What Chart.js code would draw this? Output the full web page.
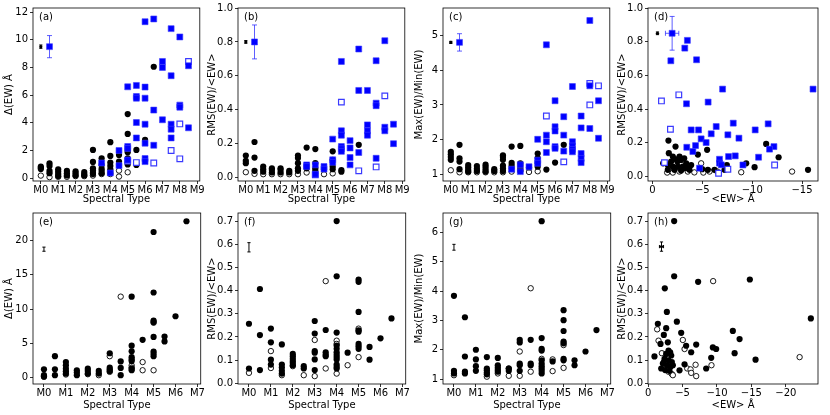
<!DOCTYPE html>
<html>
<head>
<meta charset="utf-8">
<script src="https://cdn.jsdelivr.net/npm/chart.js@4.4.0/dist/chart.umd.min.js"></script>
<style>
body { margin: 0; background: #fff; }
#wrap { position: relative; width: 830px; height: 415px; }
#wrap canvas { position: absolute; }
</style>
</head>
<body>
<div id="wrap">
  <canvas id="pa" width="205" height="205" style="left:0px;top:0px"></canvas>
  <canvas id="pb" width="205" height="205" style="left:205px;top:0px"></canvas>
  <canvas id="pc" width="205" height="205" style="left:410px;top:0px"></canvas>
  <canvas id="pd" width="215" height="205" style="left:615px;top:0px"></canvas>
  <canvas id="pe" width="205" height="210" style="left:0px;top:205px"></canvas>
  <canvas id="pf" width="205" height="210" style="left:205px;top:205px"></canvas>
  <canvas id="pg" width="205" height="210" style="left:410px;top:205px"></canvas>
  <canvas id="ph" width="215" height="210" style="left:615px;top:205px"></canvas>
</div>
<script>
// tick labels
var specTop = ['M0', 'M1', 'M2', 'M3', 'M4', 'M5', 'M6', 'M7', 'M8', 'M9'];
var specBottom = ['M0', 'M1', 'M2', 'M3', 'M4', 'M5', 'M6', 'M7'];
var ewTicksD = [0, -5, -10, -15];
var ewTicksH = [0, -5, -10, -15, -20];

// (a) Delta(EW) vs spectral type
var aBlack = [[0,0.84],[0,0.75],[0,0.67],[0.5,1.08],[0.5,0.89],[0.5,0.53],[0.5,0.36],
  [1,0.65],[1,0.48],[1,0.31],[1,0.17],[1.5,0.53],[1.5,0.36],[1.5,0.2],[2,0.5],[2,0.36],[2,0.2],
  [2.5,0.45],[2.5,0.3],[2.5,0.2],[3,2.04],[3,1.18],[3,0.72],[3,0.55],[3,0.4],[3,0.3],
  [3.5,1.44],[3.5,0.96],[3.5,0.69],[3.5,0.53],[3.5,0.36],[4,2.6],[4,1.61],[4,1.13],[4,0.89],[4,0.65],[4,0.4],
  [4.5,1.68],[4.5,1.2],[4.5,0.96],[5,4.63],[5,3.2],[5,2.04],[5,1.88],[5,1.44],[5,1.16],[5,1.0],
  [5.5,2.04],[5.5,0.96],[6,2.77],[6.5,8.05]];
var aOpen = [[0,0.19],[0.5,0.08],[1,0.1],[1.5,0.1],[2,0.15],[2.5,0.15],[3,0.19],[3.5,0.3],[4,0.3],[4.5,0.55],[4.5,0.12],[5,0.43]];
var aBlue = [[3.5,1.1],[4,0.38],[4.5,2.0],[4.5,0.91],[5,6.6],[5,2.29],[5,2.15],[5,1.32],
  [5.5,6.7],[5.5,5.9],[5.5,5.78],[5.5,4.02],[5.5,2.91],[6,11.3],[6,6.58],[6,5.78],[6,3.9],[6,2.53],[6,1.42],[6,1.2],
  [6.5,11.5],[6.5,4.92],[6.5,2.38],[7,8.43],[7,8.0],[7,4.22],[7.5,10.8],[7.5,7.4],[7.5,3.9],[7.5,3.54],[7.5,2.91],
  [8,10.2],[8,5.28],[8,5.13],[8.5,8.12],[8.5,3.64]];
var aBlueOpen = [[5,1.24],[5.5,1.13],[6.5,1.1],[7.5,2.0],[8,3.92],[8,1.4],[8.5,8.43]];
var aErr = [{x:0.5, y:9.5, yerr:0.8, m:'sq'}, {x:0, y:9.5, yerr:0.12, m:'dot'}];

// (b) RMS/<EW> vs spectral type
var bBlack = [[0,0.13],[0,0.099],[0,0.085],[0.5,0.21],[0.5,0.118],[0.5,0.04],[1,0.065],[1,0.05],[1,0.035],
  [1.5,0.055],[1.5,0.045],[1.5,0.03],[2,0.055],[2,0.045],[2,0.03],[2.5,0.04],[2.5,0.03],
  [3,0.13],[3,0.115],[3,0.085],[3,0.055],[3,0.04],[3.5,0.177],[3.5,0.07],[3.5,0.055],
  [4,0.168],[4,0.085],[4,0.055],[4,0.04],[4.5,0.05],[5,0.155],[5,0.105],[5,0.065],[5,0.05],
  [5.5,0.045],[5.5,0.035],[6.5,0.193]];
var bOpen = [[0,0.032],[0.5,0.022],[1,0.02],[1.5,0.02],[2,0.02],[2.5,0.02],[3,0.02],[3.5,0.03],[4,0.025],[4.5,0.02],[5,0.025]];
var bBlue = [[3.5,0.075],[3.5,0.065],[4,0.075],[4,0.02],[4.5,0.065],[4.5,0.05],[5,0.227],[5,0.105],[5,0.09],
  [5.5,0.685],[5.5,0.276],[5.5,0.25],[5.5,0.183],[5.5,0.17],[5.5,0.155],[6,0.218],[6,0.175],[6,0.118],[6,0.075],
  [6.5,0.758],[6.5,0.514],[6.5,0.148],[7,0.514],[7,0.311],[7,0.276],[7,0.25],
  [7.5,0.689],[7.5,0.439],[7.5,0.424],[7.5,0.114],[8,0.807],[8,0.297],[8,0.276],[8.5,0.315],[8.5,0.2]];
var bBlueOpen = [[4,0.016],[5.5,0.445],[6.5,0.04],[7.5,0.063],[8,0.482]];
var bErr = [{x:0.5, y:0.8, yerr:0.1, m:'sq'}, {x:0, y:0.8, yerr:0.008, m:'dot'}];

// (c) Max/Min vs spectral type
var cBlack = [[0,1.65],[0,1.58],[0,1.5],[0,1.42],[0.5,1.85],[0.5,1.46],[0.5,1.37],[0.5,1.15],
  [1,1.27],[1,1.2],[1,1.13],[1,1.08],[1.5,1.24],[1.5,1.16],[1.5,1.1],[2,1.28],[2,1.22],[2,1.15],[2,1.08],
  [2.5,1.15],[2.5,1.1],[3,1.55],[3,1.5],[3,1.42],[3,1.25],[3,1.17],[3,1.1],
  [3.5,1.8],[3.5,1.33],[3.5,1.25],[3.5,1.17],[4,1.82],[4,1.32],[4,1.25],[4,1.17],[4,1.1],
  [4.5,1.2],[5,1.6],[5,1.47],[5,1.32],[5,1.22],[5.5,1.14],[6,1.34],[6.5,1.85]];
var cOpen = [[0,1.12],[0.5,1.06],[1,1.06],[1.5,1.06],[2,1.06],[2.5,1.06],[3,1.06],[3.5,1.08],[4,1.1],[4.5,1.07],[5,1.09]];
var cBlue = [[3.5,1.15],[4,1.28],[4,1.08],[4.5,1.22],[5,2.01],[5,1.41],[5,1.32],
  [5.5,4.73],[5.5,2.13],[5.5,1.94],[5.5,1.63],[6,3.12],[6,2.37],[6,2.25],[6,1.8],[6,1.75],
  [6.5,2.66],[6.5,2.13],[6.5,1.67],[7,3.53],[7,1.94],[7,1.82],[7,1.72],[7,1.65],
  [7.5,2.68],[7.5,2.34],[7.5,1.6],[7.5,1.46],[7.5,1.34],[8,5.43],[8,3.55],[8,2.32],[8.5,3.12],[8.5,2.04]];
var cBlueOpen = [[5.5,2.68],[6.5,1.36],[8,3.62],[8,3.0],[8.5,3.55]];
var cErr = [{x:0.5, y:4.8, yerr:0.25, m:'sq'}, {x:0, y:4.8, yerr:0.03, m:'dot'}];

// (d) RMS/<EW> vs <EW>
var dBlack = [[-1.6,0.214],[-2.31,0.178],[-1.64,0.139],[-2.04,0.119],[-2.37,0.103],[-2.71,0.119],[-2.87,0.099],
  [-1.87,0.089],[-1.54,0.069],[-2.04,0.059],[-2.54,0.059],[-3.04,0.059],[-3.38,0.079],[-3.54,0.05],
  [-3.88,0.069],[-1.54,0.04],[-2.2,0.04],[-2.87,0.036],[-3.71,0.04],[-4.55,0.131],[-5.48,0.159],
  [-4.98,0.044],[-5.55,0.04],[-6.22,0.04],[-7.23,0.04],[-7.46,0.069],[-9.4,0.079],[-10.24,0.056],
  [-11.4,0.194],[-12.65,0.115],[-15.6,0.04],[-3.18,0.109],[-1.07,0.079],[-2.5,0.09],[-3.2,0.05]];
var dOpen = [[-1.47,0.024],[-2.04,0.024],[-2.7,0.03],[-3.54,0.03],[-4.88,0.079],[-5.1,0.024],[-5.72,0.03],
  [-8.9,0.026],[-14.0,0.03],[-6.5,0.03],[-4.2,0.025]];
var dBlue = [[-1.84,0.687],[-3.24,0.762],[-3.5,0.808],[-4.42,0.693],[-3.41,0.432],[-5.58,0.442],[-7.03,0.519],[-16.1,0.519],
  [-3.88,0.277],[-4.62,0.277],[-6.39,0.297],[-8.1,0.317],[-11.6,0.313],[-10.3,0.277],
  [-7.56,0.248],[-5.89,0.254],[-4.88,0.224],[-5.38,0.202],[-4.32,0.184],[-3.44,0.174],[-4.05,0.149],
  [-8.67,0.228],[-12.18,0.178],[-11.74,0.163],[-7.63,0.119],[-8.3,0.123],[-10.64,0.115],
  [-6.72,0.103],[-6.72,0.08],[-6.9,0.07],[-9.07,0.069],[-4.72,0.05]];
var dBlueOpen = [[-0.9,0.449],[-2.64,0.485],[-1.8,0.281],[-1.2,0.083],[-12.25,0.069],[-7.56,0.044],[-6.63,0.02]];
var dErr = [{x:-1.97, y:0.85, xerr:0.67, yerr:0.1, m:'sq'}, {x:-0.5, y:0.85, yerr:0.008, m:'dot'}];

// (e) Delta(EW) vs spectral type
var eBlack = [[0,1.24],[0,0.38],[0,0.2],[0.5,3.14],[0.5,1.24],[0.5,0.38],[1,2.29],[1,1.81],[1,1.33],[1,0.95],[1,0.62],
  [1.5,1.1],[1.5,0.76],[1.5,0.38],[2,1.33],[2,1.0],[2,0.62],[2.5,1.0],[2.5,0.62],
  [3,3.57],[3,1.48],[3,1.19],[3,1.0],[3.5,2.38],[3.5,1.43],[3.5,0.38],
  [4,11.8],[4,4.67],[4,3.86],[4,3.0],[4,2.67],[4,2.43],[4,1.33],[4,1.1],[4.5,5.52],
  [5,21.2],[5,12.4],[5,8.33],[5,8.1],[5,5.95],[5,3.81],[5,3.48],[5,3.14],[5.5,6.0],[5.5,5.29],[6,8.95],[6.5,22.76]];
var eOpen = [[0,0.14],[1,0.48],[2,0.52],[2.5,0.38],[3,3.14],[3,0.86],[3.5,11.8],[4,1.81],[4,1.48],[4.5,2.29],[4.5,1.1],[5,8.0],[5,1.1]];
var eErr = [{x:0, y:18.7, yerr:0.3}];

// (f) RMS/<EW> vs spectral type
var fBlack = [[0,0.257],[0,0.064],[0.5,0.407],[0.5,0.208],[0.5,0.057],[1,0.236],[1,0.177],[1,0.102],[1,0.081],
  [1.5,0.168],[1.5,0.081],[1.5,0.068],[1.5,0.054],[1.5,0.042],[2,0.127],[2,0.117],[2,0.106],[2,0.096],[2,0.088],[2,0.078],
  [2.5,0.074],[2.5,0.064],[3,0.269],[3,0.215],[3,0.139],[3,0.132],[3,0.103],[3,0.057],
  [3.5,0.23],[3.5,0.134],[3.5,0.123],[3.5,0.117],
  [4,0.7],[4,0.462],[4,0.219],[4,0.163],[4,0.149],[4,0.134],[4,0.123],[4,0.113],[4,0.103],[4,0.081],[4,0.071],[4,0.064],
  [4.5,0.132],[5,0.448],[5,0.438],[5,0.308],[5,0.229],[5,0.223],[5,0.17],[5,0.16],[5,0.149],
  [5.5,0.157],[5.5,0.102],[6,0.194],[6.5,0.28]];
var fOpen = [[0,0.045],[1,0.139],[1,0.066],[1.5,0.035],[2,0.074],[2.5,0.035],[3,0.187],[3,0.031],[3.5,0.441],[3.5,0.064],
  [4,0.184],[4,0.17],[4,0.042],[4.5,0.078],[5,0.236],[5,0.113]];
var fErr = [{x:0, y:0.587, yerr:0.02}];

// (g) Max/Min vs spectral type
var gBlack = [[0,3.84],[0,1.28],[0,1.19],[0.5,3.11],[0.5,1.77],[0.5,1.25],[0.5,1.19],[1,2.0],[1,1.67],[1,1.44],[1,1.28],
  [1.5,1.75],[1.5,1.36],[1.5,1.3],[1.5,1.22],[1.5,1.16],[2,1.72],[2,1.47],[2,1.39],[2,1.32],[2,1.25],
  [2.5,1.36],[2.5,1.28],[3,2.34],[3,2.25],[3,1.53],[3,1.47],[3,1.28],[3.5,2.34],[3.5,1.53],[3.5,1.47],
  [4,6.39],[4,2.4],[4,2.03],[4,1.97],[4,1.64],[4,1.53],[4,1.44],[4,1.36],[4,1.28],[4,1.19],[4.5,1.6],
  [5,3.35],[5,3.01],[5,2.64],[5,2.28],[5,2.22],[5,1.69],[5,1.64],[5.5,1.64],[5.5,1.47],[6,1.94],[6.5,2.67]];
var gOpen = [[0,1.13],[1.5,1.08],[2,1.19],[2.5,1.36],[2.5,1.11],[3,1.94],[3,1.11],[3.5,4.1],[3.5,1.25],
  [4,1.69],[4.5,1.67],[4.5,1.27],[5,2.16],[5,1.38]];
var gErr = [{x:0, y:5.5, yerr:0.1}];

// (h) RMS/<EW> vs <EW>
var hBlack = [[-3.78,0.7],[-2.42,0.41],[-3.78,0.462],[-7.26,0.438],[-14.77,0.448],[-23.63,0.28],
  [-2.72,0.308],[-1.41,0.257],[-4.17,0.266],[-2.62,0.238],[-2.28,0.209],[-4.8,0.218],
  [-1.8,0.17],[-2.86,0.177],[-5.52,0.162],[-6.98,0.167],[-9.4,0.155],[-9.88,0.148],
  [-12.3,0.226],[-13.28,0.191],[-12.56,0.13],[-15.6,0.102],[-0.92,0.116],[-6.25,0.134],
  [-9.16,0.11],[-8.43,0.064],[-5.29,0.082],[-4.56,0.056],
  [-2.96,0.141],[-3.2,0.134],[-2.62,0.127],[-3.35,0.12],[-2.38,0.106],[-2.96,0.099],
  [-3.44,0.092],[-2.14,0.085],[-2.77,0.078],[-3.25,0.071],[-1.9,0.064],[-2.48,0.057],
  [-3.1,0.054],[-2.28,0.092],[-3.59,0.078]];
var hOpen = [[-9.44,0.441],[-1.31,0.233],[-1.51,0.184],[-5.04,0.187],[-5.29,0.148],[-1.99,0.13],[-22.0,0.113],
  [-9.2,0.078],[-6.89,0.08],[-5.68,0.064],[-6.16,0.06],[-6.25,0.045],[-6.98,0.031],[-2.96,0.05],
  [-3.44,0.04],[-3.59,0.035],[-2.62,0.064]];
var hErr = [{x:-1.94, y:0.59, xerr:0.3, yerr:0.02, m:'dot'}];

Chart.defaults.font.family = '"DejaVu Sans", sans-serif';
Chart.defaults.font.size = 10;
Chart.defaults.color = '#000';

function pts(arr) {
  return arr.map(function (p) { return { x: p[0], y: p[1] }; });
}

// frame around the plot area and the panel letter
var boxPlugin = {
  id: 'box',
  afterDraw: function (chart, args, opts) {
    var ctx = chart.ctx, a = chart.chartArea;
    ctx.save();
    ctx.strokeStyle = '#000';
    ctx.lineWidth = 0.8;
    ctx.strokeRect(a.left, a.top, a.right - a.left, a.bottom - a.top);
    ctx.fillStyle = '#000';
    ctx.font = '10px "DejaVu Sans"';
    ctx.textBaseline = 'top';
    ctx.fillText(opts.label, a.left + 6, a.top + 4);
    ctx.restore();
  }
};

// error bars, placed through the chart scales
var errPlugin = {
  id: 'errbars',
  beforeDatasetsDraw: function (chart, args, opts) {
    var ctx = chart.ctx, xs = chart.scales.x, ys = chart.scales.y;
    ctx.save();
    opts.bars.forEach(function (e) {
      var px = xs.getPixelForValue(e.x), py = ys.getPixelForValue(e.y);
      ctx.strokeStyle = e.m === 'sq' ? 'rgba(40,40,255,0.75)' : '#000';
      ctx.lineWidth = 1;
      var cap = e.m === 'sq' ? 2.5 : 1.6;
      ctx.beginPath();
      if (e.yerr) {
        var y0 = ys.getPixelForValue(e.y - e.yerr), y1 = ys.getPixelForValue(e.y + e.yerr);
        ctx.moveTo(px, y0); ctx.lineTo(px, y1);
        ctx.moveTo(px - cap, y0); ctx.lineTo(px + cap, y0);
        ctx.moveTo(px - cap, y1); ctx.lineTo(px + cap, y1);
      }
      if (e.xerr) {
        var x0 = xs.getPixelForValue(e.x - e.xerr), x1 = xs.getPixelForValue(e.x + e.xerr);
        ctx.moveTo(x0, py); ctx.lineTo(x1, py);
        ctx.moveTo(x0, py - cap); ctx.lineTo(x0, py + cap);
        ctx.moveTo(x1, py - cap); ctx.lineTo(x1, py + cap);
      }
      ctx.stroke();
    });
    ctx.restore();
  }
};

function panel(id, p) {
  var errSq = p.err.filter(function (e) { return e.m === 'sq'; }).map(function (e) { return [e.x, e.y]; });
  var errDot = p.err.filter(function (e) { return e.m === 'dot'; }).map(function (e) { return [e.x, e.y]; });
  var datasets = [
    { data: pts(errSq), pointStyle: 'rect', pointRadius: 4.2, backgroundColor: '#0000ff', borderColor: 'rgba(60,60,255,0.6)', borderWidth: 1 },
    { data: pts(errDot), pointStyle: 'circle', pointRadius: 1.6, backgroundColor: '#000', borderWidth: 0 },
    { data: pts(p.blue || []), pointStyle: 'rect', pointRadius: 4.2, backgroundColor: '#0000ff', borderColor: 'rgba(60,60,255,0.6)', borderWidth: 1 },
    { data: pts(p.blueOpen || []), pointStyle: 'rect', pointRadius: 4.0, backgroundColor: '#fff', borderColor: '#3a3aff', borderWidth: 1.2 },
    { data: pts(p.black), pointStyle: 'circle', pointRadius: 3.1, backgroundColor: '#000', borderColor: '#000', borderWidth: 0 },
    { data: pts(p.open), pointStyle: 'circle', pointRadius: 2.7, backgroundColor: '#fff', borderColor: '#000', borderWidth: 0.9 }
  ];
  datasets.forEach(function (d) { d.showLine = false; d.pointHoverRadius = d.pointRadius; });

  new Chart(document.getElementById(id), {
    type: 'scatter',
    data: { datasets: datasets },
    plugins: [boxPlugin, errPlugin],
    options: {
      responsive: false,
      animation: false,
      events: [],
      layout: { padding: { left: 0, top: p.padTop, right: p.padRight, bottom: 0 } },
      plugins: {
        legend: { display: false },
        tooltip: { enabled: false },
        box: { label: p.label },
        errbars: { bars: p.err }
      },
      scales: {
        x: {
          type: 'linear', bounds: 'data', min: p.xRange[0], max: p.xRange[1], reverse: !!p.reverse,
          afterBuildTicks: function (s) { s.ticks = p.xTicks.map(function (v) { return { value: v }; }); },
          afterFit: function (s) { s.height = p.xAxisH; },
          ticks: {
            autoSkip: false, maxRotation: 0, padding: 0, color: '#000', font: { size: 10 },
            callback: function (v) { return p.xLabels[p.xTicks.indexOf(v)]; }
          },
          grid: { drawOnChartArea: false, tickLength: 3, color: '#000', lineWidth: 0.8 },
          border: { display: false },
          title: { display: true, text: p.xTitle, color: '#000', font: { size: 10 }, padding: { top: 0, bottom: p.xTitlePad } }
        },
        y: {
          type: 'linear', bounds: 'data', min: p.yRange[0], max: p.yRange[1],
          afterBuildTicks: function (s) { s.ticks = p.yTicks.map(function (v) { return { value: v }; }); },
          afterFit: function (s) { s.width = 33; },
          ticks: {
            autoSkip: false, padding: 2, color: '#000', font: { size: 10 },
            callback: function (v) { return v.toFixed(p.yDec); }
          },
          grid: { drawOnChartArea: false, tickLength: 3, color: '#000', lineWidth: 0.8 },
          border: { display: false },
          title: { display: true, text: p.yTitle, color: '#000', font: { size: 10 }, padding: { top: p.yDec ? 1.5 : 3.5, bottom: 0 } }
        }
      }
    }
  });
}

var specIdxTop = specTop.map(function (s, i) { return i; });
var specIdxBottom = specBottom.map(function (s, i) { return i; });
var ewLabel = function (v) { return v === 0 ? '0' : '\u2212' + Math.abs(v); };
var rowTop = { padTop: 8, xAxisH: 24, xTitlePad: 0 };
var rowBot = { padTop: 5, xAxisH: 31, xTitlePad: 4 };

function merge(a, b) { var o = {}; for (var k in a) o[k] = a[k]; for (var k2 in b) o[k2] = b[k2]; return o; }

panel('pa', merge(rowTop, { label: '(a)', padRight: 2, black: aBlack, open: aOpen, blue: aBlue, blueOpen: aBlueOpen, err: aErr,
  xRange: [-0.45, 9.15], xTicks: specIdxTop, xLabels: specTop, xTitle: 'Spectral Type',
  yRange: [-0.2, 12.29], yTicks: [0, 2, 4, 6, 8, 10, 12], yDec: 0, yTitle: '\u0394(EW) \u00c5' }));
panel('pb', merge(rowTop, { label: '(b)', padRight: 2, black: bBlack, open: bOpen, blue: bBlue, blueOpen: bBlueOpen, err: bErr,
  xRange: [-0.45, 9.15], xTicks: specIdxTop, xLabels: specTop, xTitle: 'Spectral Type',
  yRange: [-0.02, 1.0], yTicks: [0, 0.2, 0.4, 0.6, 0.8, 1.0], yDec: 1, yTitle: 'RMS(EW)/<EW>' }));
panel('pc', merge(rowTop, { label: '(c)', padRight: 2, black: cBlack, open: cOpen, blue: cBlue, blueOpen: cBlueOpen, err: cErr,
  xRange: [-0.45, 9.15], xTicks: specIdxTop, xLabels: specTop, xTitle: 'Spectral Type',
  yRange: [0.81, 5.79], yTicks: [1, 2, 3, 4, 5], yDec: 0, yTitle: 'Max(EW)/Min(EW)' }));
panel('pd', merge(rowTop, { label: '(d)', padRight: 12, black: dBlack, open: dOpen, blue: dBlue, blueOpen: dBlueOpen, err: dErr,
  xRange: [-16.6, 0.45], reverse: true, xTicks: ewTicksD, xLabels: ewTicksD.map(ewLabel), xTitle: '<EW> \u00c5',
  yRange: [-0.026, 1.0], yTicks: [0, 0.2, 0.4, 0.6, 0.8, 1.0], yDec: 1, yTitle: 'RMS(EW)/<EW>' }));
panel('pe', merge(rowBot, { label: '(e)', padRight: 2, black: eBlack, open: eOpen, err: eErr,
  xRange: [-0.5, 7.15], xTicks: specIdxBottom, xLabels: specBottom, xTitle: 'Spectral Type',
  yRange: [-0.9, 23.96], yTicks: [0, 5, 10, 15, 20], yDec: 0, yTitle: '\u0394(EW) \u00c5' }));
panel('pf', merge(rowBot, { label: '(f)', padRight: 2, black: fBlack, open: fOpen, err: fErr,
  xRange: [-0.5, 7.15], xTicks: specIdxBottom, xLabels: specBottom, xTitle: 'Spectral Type',
  yRange: [-0.003, 0.735], yTicks: [0, 0.1, 0.2, 0.3, 0.4, 0.5, 0.6, 0.7], yDec: 1, yTitle: 'RMS(EW)/<EW>' }));
panel('pg', merge(rowBot, { label: '(g)', padRight: 2, black: gBlack, open: gOpen, err: gErr,
  xRange: [-0.5, 7.15], xTicks: specIdxBottom, xLabels: specBottom, xTitle: 'Spectral Type',
  yRange: [0.83, 6.67], yTicks: [1, 2, 3, 4, 5, 6], yDec: 0, yTitle: 'Max(EW)/Min(EW)' }));
panel('ph', merge(rowBot, { label: '(h)', padRight: 12, black: hBlack, open: hOpen, err: hErr,
  xRange: [-24.67, 0.02], reverse: true, xTicks: ewTicksH, xLabels: ewTicksH.map(ewLabel), xTitle: '<EW> \u00c5',
  yRange: [-0.003, 0.735], yTicks: [0, 0.1, 0.2, 0.3, 0.4, 0.5, 0.6, 0.7], yDec: 1, yTitle: 'RMS(EW)/<EW>' }));
</script>
</body>
</html>
